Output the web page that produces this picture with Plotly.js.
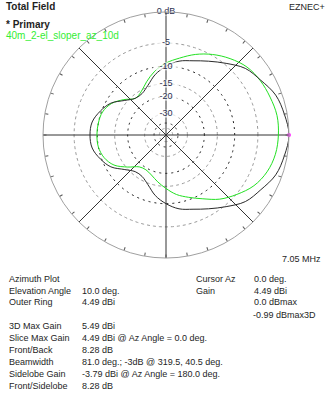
<!DOCTYPE html>
<html>
<head>
<meta charset="utf-8">
<script src="https://cdn.plot.ly/plotly-3.0.1.min.js"></script>
<style>
html,body{margin:0;padding:0;background:#fff;}
#chart{width:332px;height:400px;}
</style>
</head>
<body>
<div id="chart"></div>
<script>
// ---- data (dB relative to outer ring) ----
const azimuths = [0,10,20,30,40,50,60,70,80,90,100,110,120,130,140,150,160,170,180,190,200,210,220,230,240,250,260,270,280,290,300,310,320,330,340,350];
const primaryDb = [0,-0.4,-0.9,-2.0,-2.95,-4.7,-6.3,-7.6,-8.5,-10.0,-11.9,-14.5,-16.2,-16.2,-14.2,-11.3,-9.7,-8.5,-8.26,-8.5,-9.7,-11.3,-14.2,-16.2,-16.2,-14.5,-11.9,-10.0,-8.5,-7.6,-6.3,-4.7,-2.95,-2.0,-0.9,-0.4];
const referenceDb = [-1.55,-1.5,-1.8,-2.1,-2.6,-3.6,-4.8,-6.2,-7.8,-9.2,-11.0,-13.3,-15.5,-16.2,-13.8,-11.5,-10.3,-10.0,-9.9,-10.0,-10.7,-12.3,-15.5,-18.6,-19.2,-18.2,-16.3,-14.3,-12.2,-10.6,-8.8,-6.6,-4.9,-3.3,-2.3,-1.75];
const ringLevelsGray = [-5,-15,-30,-50];
const ringLevelsBlack = [-10,-20,-40];
const labelLevels = [0,-5,-10,-15,-20,-30];
const labelTexts = ["0 dB","-5","-10","-15","-20","-30"];
const spokeAngles = [0,45,90,135,180,225,270,315];
const cursorAz = [0];
const cursorDb = [0];

const infoLeftLabels = ["Azimuth Plot","Elevation Angle","Outer Ring","","3D Max Gain","Slice Max Gain","Front/Back","Beamwidth","Sidelobe Gain","Front/Sidelobe"];
const infoLeftValues = ["","10.0 deg.","4.49 dBi","","5.49 dBi","4.49 dBi @ Az Angle = 0.0 deg.","8.28 dB","81.0 deg.; -3dB @ 319.5, 40.5 deg.","-3.79 dBi @ Az Angle = 180.0 deg.","8.28 dB"];
const infoRightLabels = ["Cursor Az","Gain","","","","","","","",""];
const infoRightValues = ["0.0 deg.","4.49 dBi","0.0 dBmax","-0.99 dBmax3D","","","","","",""];

// ARRL log scale: 2 dB per 0.89 factor
function arrl(db){ return Math.pow(0.89, -db/2); }

const W=332,H=400;
const FONT="Liberation Sans, Arial, sans-serif";
const TXT="#1e1e1e";

const circTheta=[]; for(let a=0;a<=360;a+=2) circTheta.push(a);

const traces=[];
ringLevelsGray.forEach(l=>traces.push({type:'scatterpolar',mode:'lines',theta:circTheta,r:circTheta.map(()=>arrl(l)),line:{color:'#9a9a9a',width:1,dash:'3px,3px'},hoverinfo:'skip',showlegend:false}));
ringLevelsBlack.forEach(l=>traces.push({type:'scatterpolar',mode:'lines',theta:circTheta,r:circTheta.map(()=>arrl(l)),line:{color:'#222',width:1,dash:'2px,4px'},hoverinfo:'skip',showlegend:false}));
spokeAngles.forEach(a=>traces.push({type:'scatterpolar',mode:'lines',theta:[a,a],r:[0,1],line:{color:'#333',width:1},hoverinfo:'skip',showlegend:false}));

const closeT=azimuths.concat([360]);
traces.push({type:'scatterpolar',mode:'lines',theta:closeT,r:referenceDb.concat([referenceDb[0]]).map(arrl),line:{color:'#22e022',width:1,shape:'spline',smoothing:1},showlegend:false});
traces.push({type:'scatterpolar',mode:'lines',theta:closeT,r:primaryDb.concat([primaryDb[0]]).map(arrl),line:{color:'#2a2a2a',width:1,shape:'spline',smoothing:1},showlegend:false});
traces.push({type:'scatterpolar',mode:'markers',theta:cursorAz,r:cursorDb.map(arrl),marker:{color:'#ff33ff',size:4},showlegend:false});
traces.push({type:'scatterpolar',mode:'markers+text',theta:labelLevels.map(()=>90),r:labelLevels.map(arrl),text:labelTexts,textposition:'middle center',
  textfont:{family:FONT,size:9,color:'#2a3050'},
  marker:{symbol:'line-ew',size:labelTexts.map(t=>t.length*5+4),color:'#fff',line:{color:'#fff',width:8}},showlegend:false,hoverinfo:'skip'});

function ann(text,x,y,opts){
  return Object.assign({text:text,xref:'paper',yref:'paper',x:x/W,y:1-y/H,xanchor:'left',yanchor:'middle',showarrow:false,
    font:{family:FONT,size:9,color:TXT}},opts||{});
}
const anns=[];
anns.push(ann('<b>Total Field</b>',4,7,{font:{family:FONT,size:10,color:TXT}}));
anns.push(ann('<b>* Primary</b>',4,24,{font:{family:FONT,size:10,color:TXT}}));
anns.push(ann('40m_2-el_sloper_az_10d',4,36,{font:{family:FONT,size:10,color:'#33ee33'}}));
anns.push(ann('EZNEC+',287,7));
anns.push(ann('7.05 MHz',323,259,{xanchor:'right'}));
const rowY=[279,291,302,315,326,338,350,362,374,386];
rowY.forEach((y,i)=>{
  if(infoLeftLabels[i]) anns.push(ann(infoLeftLabels[i],7,y));
  if(infoLeftValues[i]) anns.push(ann(infoLeftValues[i],80,y));
  if(infoRightLabels[i]) anns.push(ann(infoRightLabels[i],194,y));
  if(infoRightValues[i]) anns.push(ann(infoRightValues[i],i===3?251:252,y));
});

const cx=166,cy=135,R=123;
const layout={
  width:W,height:H,margin:{l:0,r:0,t:0,b:0},paper_bgcolor:'#fff',showlegend:false,
  polar:{
    domain:{x:[(cx-R)/W,(cx+R)/W],y:[1-(cy+R)/H,1-(cy-R)/H]},
    bgcolor:'#fff',
    radialaxis:{range:[0,1],visible:true,showline:false,showgrid:false,showticklabels:false,ticks:''},
    angularaxis:{rotation:0,direction:'counterclockwise',showgrid:false,showticklabels:false,ticks:'inside',ticklen:3,tickcolor:'#555',dtick:10,showline:true,linecolor:'#a0a0a0',linewidth:1}
  },
  annotations:anns,
  font:{family:FONT}
};
Plotly.newPlot('chart',traces,layout,{staticPlot:true,displayModeBar:false});
</script>
</body>
</html>
